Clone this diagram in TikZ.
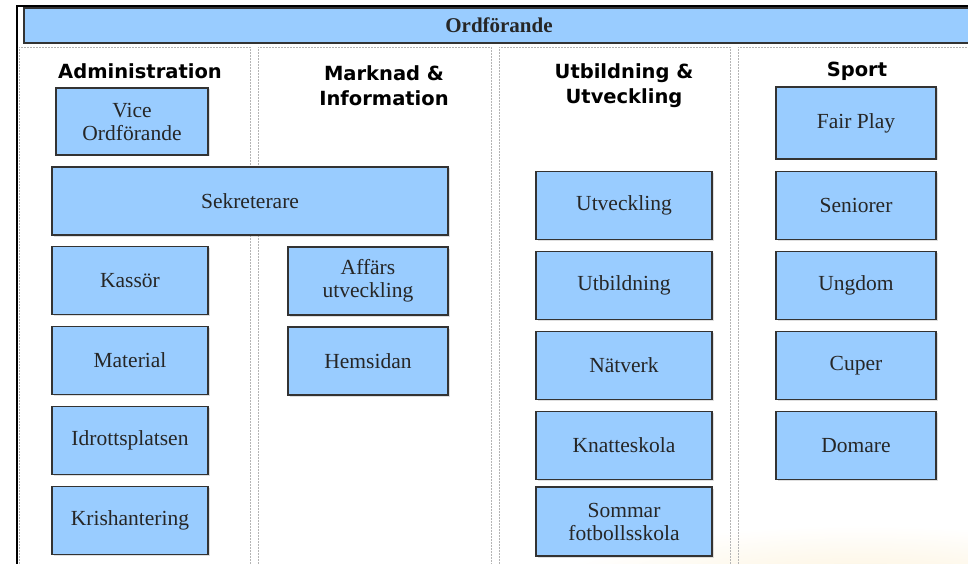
\documentclass[tikz,border=0pt]{standalone}
\usepackage{fontspec}
\setmainfont{Liberation Serif}
\newfontfamily\hdfont{DejaVu Sans}
\usepackage{tikz}
\usetikzlibrary{positioning}
\usetikzlibrary{shadows}
\definecolor{boxblue}{HTML}{99CCFF}
\definecolor{boxline}{HTML}{333333}
\definecolor{colline}{HTML}{B4B4B4}
\definecolor{glow}{HTML}{FCF0D4}
\tikzset {
  node distance={80pt},
  % blue boxes for the roles
  role/.style = {draw=boxline, fill=boxblue, line width=1.3pt, text=black!85, align=center,
    minimum width=156pt, minimum height=68pt, inner sep=0pt,
    font=\fontsize{21.5}{23}\selectfont,
    drop shadow={shadow xshift=1.5pt, shadow yshift=-1.5pt, opacity=0.25}},
  % headings of the four columns
  head/.style = {align=center, font=\hdfont\bfseries\fontsize{19.5}{25}\selectfont},
  % dashed column frames
  column/.style = {draw=colline, dash pattern=on 2pt off 1pt, line width=0.8pt},
}
\begin{document}
\begin{tikzpicture}[x=1pt, y=-1pt]
        \useasboundingbox (0,0) rectangle (968,564);
        \shade[inner color=glow, outer color=white] (860,600) ellipse (330 and 75);

        \draw[column] (19,600) |- (250,47) -- (250,600);
        \draw[column] (258,600) |- (491,47) -- (491,600);
        \draw[column] (499,600) |- (730,47) -- (730,600);
        \draw[column] (738,600) |- (980,47);
        \draw[line width=1.5pt] (17,600) |- (980,6);

        \node[role, minimum width=950pt, minimum height=35pt, font=\bfseries\fontsize{21}{23}\selectfont] (ordf) at (499,25.5) {Ordförande};

        \node[head] (hadmin) at (140,71) {Administration};
        \node[head] (hmark) at (384,86) {Marknad \&\\Information};
        \node[head] (hutb) at (624,86) {Utbildning \&\\Utveckling};
        \node[head] (hsport) at (857,71) {Sport};

        % Administration
        \node[role, minimum width=152pt, minimum height=67pt] (vice) at (132,121.5) {Vice\\Ordförande};
        \node[role, minimum width=396pt] (sekr) at (250,201) {Sekreterare};
        \node[role] (kassor) at (130,280.5) {Kassör};
        \node[role] (material) [below of=kassor] {Material};
        \node[role] (idrott) [below of=material] {Idrottsplatsen};
        \node[role] (kris) [below of=idrott] {Krishantering};

        % Marknad & Information
        \node[role, minimum width=160pt] (affars) at (368,281) {Affärs\\utveckling};
        \node[role, minimum width=160pt] (hemsida) [below of=affars] {Hemsidan};

        % Utbildning & Utveckling
        \node[role, minimum width=176pt] (utveckl) at (624,205.5) {Utveckling};
        \node[role, minimum width=176pt] (utbild) [below of=utveckl] {Utbildning};
        \node[role, minimum width=176pt] (natverk) [below of=utbild] {Nätverk};
        \node[role, minimum width=176pt] (knatte) [below of=natverk] {Knatteskola};
        \node[role, minimum width=176pt, minimum height=69pt, node distance=76pt] (sommar) [below of=knatte] {Sommar\\fotbollsskola};

        % Sport
        \node[role, minimum width=160pt, minimum height=72pt] (fairplay) at (856,123) {Fair Play};
        \node[role, minimum width=160pt] (senior) at (856,205.5) {Seniorer};
        \node[role, minimum width=160pt] (ungdom) [below of=senior] {Ungdom};
        \node[role, minimum width=160pt] (cuper) [below of=ungdom] {Cuper};
        \node[role, minimum width=160pt] (domare) [below of=cuper] {Domare};
      \end{tikzpicture}
\end{document}
